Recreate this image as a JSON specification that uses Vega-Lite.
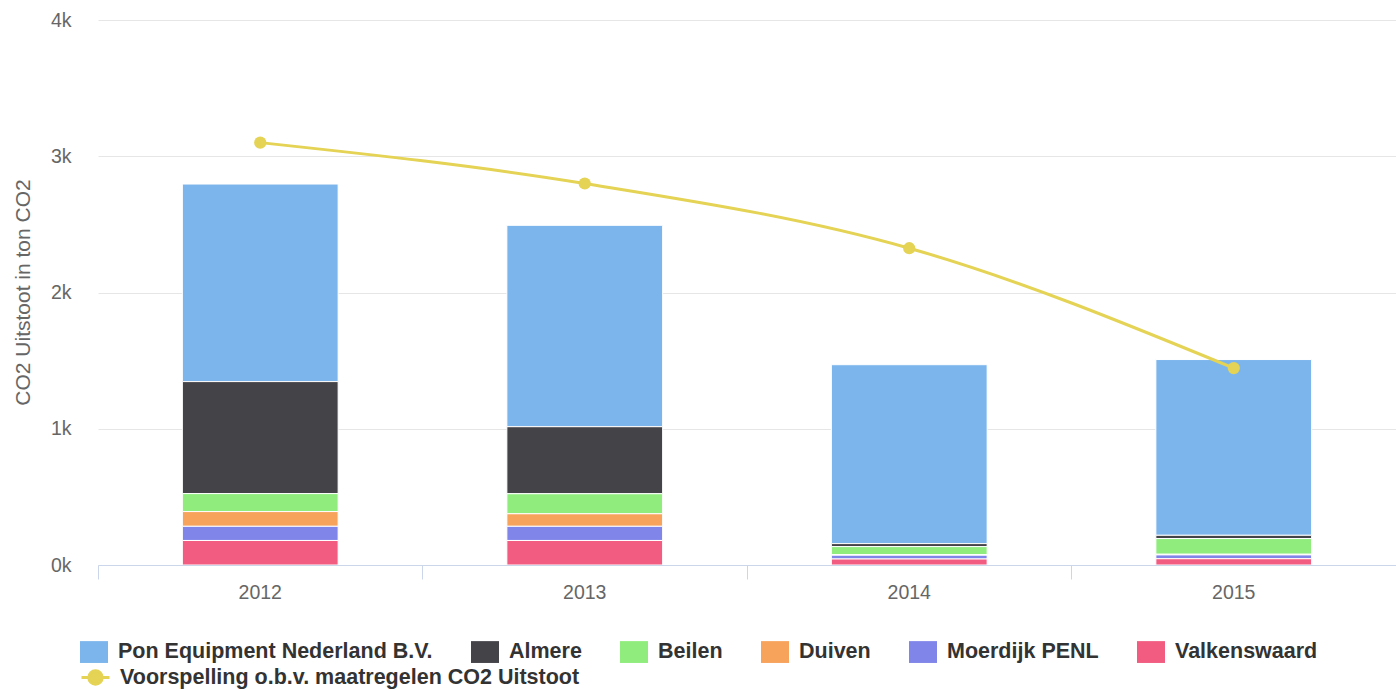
{
  "$schema": "https://vega.github.io/schema/vega-lite/v6.json",
  "width": 1298,
  "height": 545,
  "autosize": {"type": "none"},
  "padding": {"left": 98, "top": 20, "right": 0, "bottom": 125},
  "background": "white",
  "config": {"view": {"stroke": null}, "font": "Liberation Sans"},
  "datasets": {
    "bars": [
      {"year": "2012", "site": "Pon Equipment Nederland B.V.", "rank": 6, "value": 1450},
      {"year": "2012", "site": "Almere", "rank": 5, "value": 822},
      {"year": "2012", "site": "Beilen", "rank": 4, "value": 132},
      {"year": "2012", "site": "Duiven", "rank": 3, "value": 108},
      {"year": "2012", "site": "Moerdijk PENL", "rank": 2, "value": 104},
      {"year": "2012", "site": "Valkenswaard", "rank": 1, "value": 180},
      {"year": "2013", "site": "Pon Equipment Nederland B.V.", "rank": 6, "value": 1478},
      {"year": "2013", "site": "Almere", "rank": 5, "value": 492},
      {"year": "2013", "site": "Beilen", "rank": 4, "value": 147},
      {"year": "2013", "site": "Duiven", "rank": 3, "value": 92},
      {"year": "2013", "site": "Moerdijk PENL", "rank": 2, "value": 104},
      {"year": "2013", "site": "Valkenswaard", "rank": 1, "value": 180},
      {"year": "2014", "site": "Pon Equipment Nederland B.V.", "rank": 6, "value": 1313},
      {"year": "2014", "site": "Almere", "rank": 5, "value": 22},
      {"year": "2014", "site": "Beilen", "rank": 4, "value": 58},
      {"year": "2014", "site": "Duiven", "rank": 3, "value": 5},
      {"year": "2014", "site": "Moerdijk PENL", "rank": 2, "value": 28},
      {"year": "2014", "site": "Valkenswaard", "rank": 1, "value": 44},
      {"year": "2015", "site": "Pon Equipment Nederland B.V.", "rank": 6, "value": 1290},
      {"year": "2015", "site": "Almere", "rank": 5, "value": 24},
      {"year": "2015", "site": "Beilen", "rank": 4, "value": 115},
      {"year": "2015", "site": "Duiven", "rank": 3, "value": 5},
      {"year": "2015", "site": "Moerdijk PENL", "rank": 2, "value": 28},
      {"year": "2015", "site": "Valkenswaard", "rank": 1, "value": 46}
    ],
    "line": [
      {"year": "2012", "series": "Voorspelling o.b.v. maatregelen CO2 Uitstoot", "value": 3100},
      {"year": "2013", "series": "Voorspelling o.b.v. maatregelen CO2 Uitstoot", "value": 2800},
      {"year": "2014", "series": "Voorspelling o.b.v. maatregelen CO2 Uitstoot", "value": 2325},
      {"year": "2015", "series": "Voorspelling o.b.v. maatregelen CO2 Uitstoot", "value": 1445}
    ]
  },
  "layer": [
    {
      "data": {"name": "bars"},
      "mark": {"type": "bar", "stroke": "white", "strokeWidth": 1, "width": {"band": 0.48}},
      "encoding": {
        "x": {
          "field": "year", "type": "nominal",
          "scale": {"paddingInner": 0, "paddingOuter": 0},
          "axis": {
            "title": null, "labelAngle": 0, "bandPosition": 0,
            "domainColor": "#ccd6eb", "tickColor": "#ccd6eb", "tickSize": 14,
            "labelFontSize": 19.5, "labelColor": "#666666", "labelPadding": 4,
            "grid": false, "zindex": 1
          }
        },
        "y": {
          "field": "value", "type": "quantitative", "stack": "zero",
          "scale": {"domain": [0, 4000], "nice": false},
          "axis": {
            "title": "CO2 Uitstoot in ton CO2",
            "titleFontSize": 21, "titleColor": "#666666", "titleFontWeight": "normal",
            "titleX": -75, "titleY": 272, "titleAngle": -90, "titleBaseline": "middle", "titleAlign": "center",
            "values": [0, 1000, 2000, 3000, 4000],
            "labelExpr": "(datum.value/1000) + 'k'",
            "labelFontSize": 19.5, "labelColor": "#666666", "labelPadding": 27,
            "domain": false, "ticks": false, "grid": true, "gridColor": "#e6e6e6"
          }
        },
        "fill": {
          "field": "site", "type": "nominal",
          "scale": {
            "domain": ["Pon Equipment Nederland B.V.", "Almere", "Beilen", "Duiven", "Moerdijk PENL", "Valkenswaard"],
            "range": ["#7cb5ec", "#434348", "#90ed7d", "#f7a35c", "#8085e9", "#f15c80"]
          },
          "legend": {
            "title": null, "orient": "none", "legendX": -18, "legendY": 618,
            "direction": "horizontal", "columns": 6, "columnPadding": 38,
            "symbolType": "M-1,-0.78H1V0.78H-1Z", "symbolSize": 784, "symbolStrokeWidth": 0,
            "labelFontSize": 21.5, "labelFontWeight": "bold", "labelColor": "#333333",
            "labelLimit": 500, "labelOffset": 10
          }
        },
        "order": {"field": "rank", "type": "quantitative"}
      }
    },
    {
      "data": {"name": "line"},
      "mark": {"type": "line", "interpolate": "monotone", "strokeWidth": 3},
      "encoding": {
        "x": {"field": "year", "type": "nominal"},
        "y": {"field": "value", "type": "quantitative"},
        "stroke": {
          "field": "series", "type": "nominal",
          "scale": {"range": ["#e4d354"]},
          "legend": {
            "title": null, "orient": "none", "legendX": -18, "legendY": 642,
            "symbolType": "M-1,0H1M-0.48,0A0.48,0.48 0 1 1 0.48,0A0.48,0.48 0 1 1 -0.48,0",
            "symbolSize": 784, "symbolStrokeWidth": 3, "symbolFillColor": "#e4d354",
            "labelFontSize": 21.5, "labelFontWeight": "bold", "labelColor": "#333333",
            "labelLimit": 600, "labelOffset": 9
          }
        }
      }
    },
    {
      "data": {"name": "line"},
      "mark": {"type": "point", "filled": true, "size": 150, "color": "#e4d354", "opacity": 1},
      "encoding": {
        "x": {"field": "year", "type": "nominal"},
        "y": {"field": "value", "type": "quantitative"}
      }
    }
  ]
}
